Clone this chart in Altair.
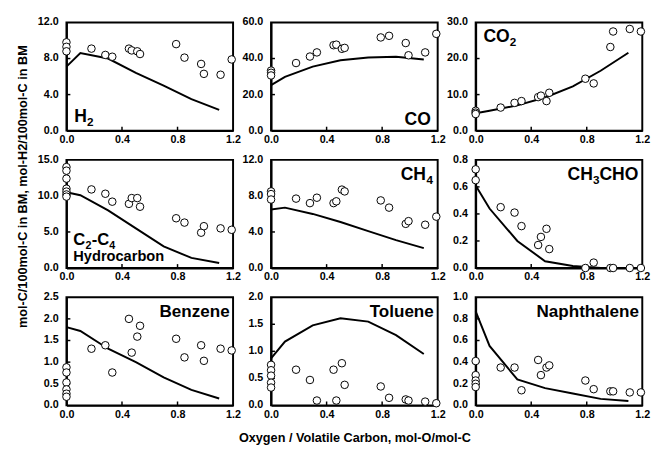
import altair as alt
import pandas as pd

# ---------------- data ----------------
X_PTS = [0.18, 0.28, 0.33, 0.45, 0.47, 0.51, 0.53, 0.79, 0.85, 0.97, 0.99, 1.11, 1.19]
X_LINE = [0.0, 0.1, 0.3, 0.5, 0.7, 0.9, 1.1]

h2_zero = [9.8, 9.3, 8.8]
h2_pts = [9.1, 8.4, 8.2, 9.1, 8.9, 8.8, 8.5, 9.6, 8.1, 7.4, 6.3, 6.2, 7.9]
h2_line = [7.1, 8.6, 8.0, 6.4, 5.0, 3.5, 2.3]

co_zero = [33.3, 32.1, 30.6]
co_pts = [37.5, 41.1, 43.4, 47.4, 47.7, 45.4, 45.9, 51.7, 52.6, 48.6, 41.8, 43.4, 53.7]
co_line = [25.2, 29.8, 35.5, 39.0, 40.6, 41.0, 39.5]

co2_zero = [5.5, 5.0, 4.6]
co2_pts = [6.4, 7.7, 8.2, 9.3, 9.7, 8.2, 10.5, 14.4, 13.1, 23.2, 27.5, 28.2, 27.5]
co2_line = [4.8, 5.5, 7.0, 9.2, 12.3, 16.6, 21.6]

hc_zero = [14.0, 13.5, 12.4, 11.0, 10.6, 10.2, 9.9]
hc_pts = [10.9, 10.3, 9.2, 8.9, 9.7, 9.7, 8.5, 6.9, 6.3, 4.9, 5.8, 5.5, 5.3]
hc_line = [10.5, 10.1, 8.0, 5.5, 3.0, 1.4, 0.7]

ch4_zero = [8.5, 8.2, 7.6]
ch4_pts = [7.7, 7.2, 7.8, 7.2, 7.4, 8.7, 8.5, 7.5, 6.7, 4.9, 5.2, 4.8, 5.7]
ch4_line = [6.5, 6.7, 6.0, 5.1, 4.1, 3.1, 2.2]

ald_zero = [0.73, 0.65]
ald_pts = [0.45, 0.41, 0.31, 0.17, 0.23, 0.29, 0.14, 0.0, 0.04, 0.0, 0.0, 0.0, 0.0]
ald_line = [0.61, 0.44, 0.20, 0.05, 0.015, 0.0, 0.0]

bz_zero = [0.88, 0.76, 0.53, 0.37, 0.27, 0.2]
bz_pts = [1.31, 1.39, 0.76, 2.0, 1.22, 1.59, 1.84, 1.54, 1.11, 1.39, 1.03, 1.31, 1.27]
bz_line = [1.81, 1.72, 1.31, 1.0, 0.65, 0.36, 0.16]

tl_zero = [0.75, 0.65, 0.55, 0.42, 0.33]
tl_pts = [0.66, 0.47, 0.09, 0.66, 0.09, 0.78, 0.38, 0.35, 0.14, 0.11, 0.09, 0.07, 0.04]
tl_line = [0.87, 1.18, 1.48, 1.61, 1.55, 1.30, 0.95]

np_zero = [0.41, 0.28, 0.23, 0.2, 0.17]
np_pts = [0.35, 0.35, 0.14, 0.42, 0.28, 0.35, 0.37, 0.23, 0.15, 0.13, 0.13, 0.12, 0.12]
np_line = [0.87, 0.55, 0.24, 0.16, 0.11, 0.06, 0.04]

X_TICKS = [0.0, 0.4, 0.8, 1.2]

# ---------------- layout ----------------
W, H = 171, 111
TICK = 4
FONT = "Liberation Sans"

# label segments: (text, x, y_baseline, size, align)
panels = [
    dict(zero=h2_zero, pts=h2_pts, line=h2_line, dom=[0, 12], step=4,
         label=[("H", 8, 102, 18, "left"), ("2", 21, 106, 12, "left")]),
    dict(zero=co_zero, pts=co_pts, line=co_line, dom=[0, 60], step=20,
         label=[("CO", 164, 105, 18, "right")]),
    dict(zero=co2_zero, pts=co2_pts, line=co2_line, dom=[0, 30], step=10,
         label=[("CO", 8, 20, 18, "left"), ("2", 35, 24, 12, "left")]),
    dict(zero=hc_zero, pts=hc_pts, line=hc_line, dom=[0, 15], step=5,
         label=[("C", 7, 87, 17, "left"), ("2", 19.5, 91, 11, "left"),
                ("-", 26, 87, 17, "left"), ("C", 31.5, 87, 17, "left"),
                ("4", 44, 91, 11, "left"), ("Hydrocarbon", 7, 104, 15, "left")]),
    dict(zero=ch4_zero, pts=ch4_pts, line=ch4_line, dom=[0, 12], step=4,
         label=[("CH", 133, 21, 18, "left"), ("4", 159.5, 25, 12, "left")]),
    dict(zero=ald_zero, pts=ald_pts, line=ald_line, dom=[0, 0.8], step=0.2,
         label=[("CHO", 167, 21, 18, "right"), ("3", 127, 25, 12, "right"),
                ("CH", 120.3, 21, 18, "right")]),
    dict(zero=bz_zero, pts=bz_pts, line=bz_line, dom=[0, 2.5], step=0.5,
         label=[("Benzene", 167.5, 20, 17.5, "right")]),
    dict(zero=tl_zero, pts=tl_pts, line=tl_line, dom=[0, 2.0], step=0.5,
         label=[("Toluene", 167, 20, 17.5, "right")]),
    dict(zero=np_zero, pts=np_pts, line=np_line, dom=[0, 1.0], step=0.2,
         label=[("Naphthalene", 167.5, 20.5, 17.5, "right")]),
]


def make_panel(i, p):
    xs = [0.0] * len(p["zero"]) + X_PTS
    ys = p["zero"] + p["pts"]
    df_pts = pd.DataFrame({"x": xs, "y": ys})
    df_line = pd.DataFrame({"x": X_LINE, "y": p["line"]})
    lo, hi = p["dom"]
    n = int(round((hi - lo) / p["step"]))
    yvals = [round(lo + k * p["step"], 4) for k in range(n + 1)]

    common = dict(format=".1f", labelFlush=False, labelOverlap=False)
    x_kwargs = dict(values=X_TICKS, title=None, labelPadding=3, **common)
    if i == 7:
        x_kwargs = dict(values=X_TICKS, title="Oxygen / Volatile Carbon, mol-O/mol-C",
                        titleFontSize=13, titleFontWeight="bold", titlePadding=13,
                        labelPadding=3, titleColor="black", **common)
    y_kwargs = dict(values=yvals, title=None, labels=False)
    if i == 3:
        y_kwargs = dict(values=yvals, labels=False,
                        title="mol-C/100mol-C in BM, mol-H2/100mol-C in BM",
                        titleFontSize=13, titleFontWeight="bold", titleX=-45,
                        titleY=27, titleAlign="center", titleBaseline="middle",
                        titleAngle=-90, titleColor="black")

    xscale = alt.Scale(domain=[0, 1.2], nice=False)
    yscale = alt.Scale(domain=p["dom"], nice=False)
    xenc = alt.X("x:Q", scale=xscale, axis=alt.Axis(**x_kwargs))
    yenc = alt.Y("y:Q", scale=yscale, axis=alt.Axis(**y_kwargs))

    # y tick labels, placed through the panel's own y scale
    ylab = pd.DataFrame({"t": yvals, "lab": [f"{v:.1f}" for v in yvals]})
    ylabels = alt.Chart(ylab).mark_text(
        align="right", baseline="middle", fontSize=11, fontWeight="bold",
        font=FONT, color="black"
    ).encode(y="t:Q", x=alt.value(-8), text="lab:N")

    # inward tick marks (drawn through the panel's own scales)
    xt = pd.DataFrame({"t": X_TICKS[1:-1]})
    yt = pd.DataFrame({"t": yvals[1:-1]})
    xticks = alt.Chart(xt).mark_rule(color="black", strokeWidth=1.5).encode(
        x="t:Q", y=alt.value(H), y2=alt.value(H - TICK))
    yticks = alt.Chart(yt).mark_rule(color="black", strokeWidth=1.5).encode(
        y="t:Q", x=alt.value(0), x2=alt.value(TICK))

    line = alt.Chart(df_line).mark_line(color="black", strokeWidth=2).encode(x=xenc, y=yenc)
    pts = alt.Chart(df_pts).mark_point(shape="circle", filled=True, fill="white",
                                       stroke="black", strokeWidth=1, size=60,
                                       opacity=1).encode(x="x:Q", y="y:Q")
    layers = [line, xticks, yticks, ylabels, pts]
    dummy = pd.DataFrame({"d": [0]})
    for (txt, lx, ly, sz, al) in p["label"]:
        layers.append(
            alt.Chart(dummy).mark_text(text=txt, fontSize=sz, fontWeight="bold",
                                       font=FONT, align=al, baseline="alphabetic",
                                       color="black")
            .encode(x=alt.value(lx), y=alt.value(ly))
        )
    return alt.layer(*layers).properties(width=W, height=H)


charts = [make_panel(i, p) for i, p in enumerate(panels)]
chart = alt.concat(*charts, columns=3, spacing={"row": 30, "column": 39},
                   bounds="flush").configure(
    font=FONT, padding={"left": 7, "top": 2, "right": 2, "bottom": 2}
).configure_view(
    stroke="black", strokeWidth=2
).configure_axis(
    grid=False, ticks=False, domainColor="black", domainWidth=2,
    labelFont=FONT, labelFontWeight="bold", labelFontSize=11, labelColor="black",
    titleFont=FONT
)

chart.save("out.html", embed_options={"renderer": "svg", "actions": False})
